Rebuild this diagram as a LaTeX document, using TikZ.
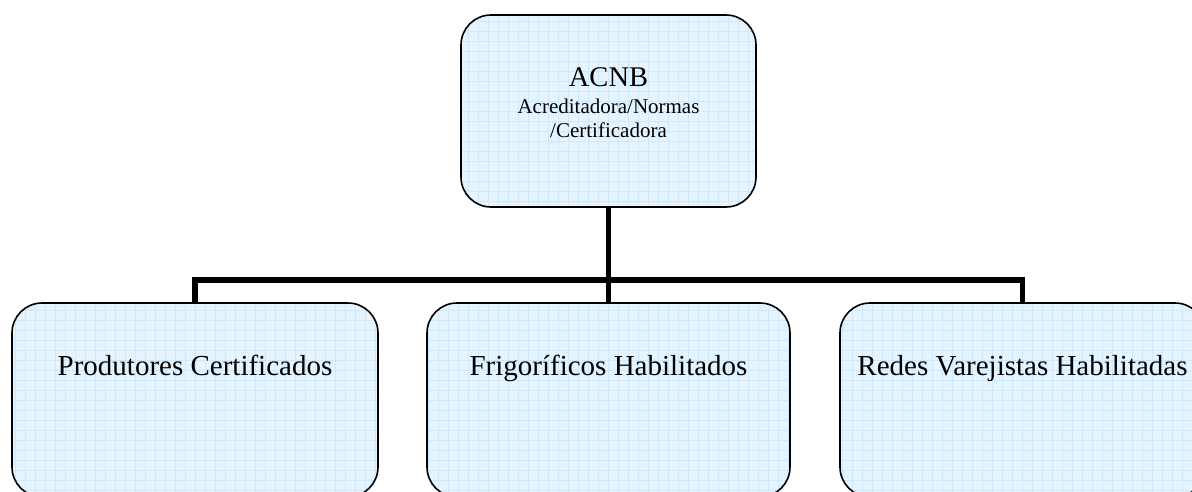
\documentclass[tikz,border=0pt]{standalone}
\usepackage{fontspec}
\setmainfont{Liberation Serif}
\definecolor{boxfill}{RGB}{229,244,255}
\definecolor{gridblue}{RGB}{206,233,252}
\tikzset{
  orgbox/.style={rectangle, rounded corners=30pt, draw=black, line width=1.6pt,
    fill=boxfill, inner sep=0pt,
    path picture={\draw[gridblue, line width=0.6pt]
      (path picture bounding box.south west) grid[step=10pt]
      (path picture bounding box.north east);}},
  conn/.style={draw=black, line width=5.5pt},
  bigtext/.style={font=\fontsize{29}{34}\selectfont, inner sep=0pt, anchor=base},
  titletext/.style={font=\fontsize{28.5}{34}\selectfont, inner sep=0pt, anchor=base},
  subtext/.style={font=\fontsize{21}{25}\selectfont, inner sep=0pt, anchor=base},
}
\begin{document}
\begin{tikzpicture}[x=1pt,y=-1pt]
\useasboundingbox (0,0) rectangle (1192,491);
\clip (0,0) rectangle (1192,491);
\fill[white] (0,0) rectangle (1192,491);
% boxes
\node[orgbox, minimum width=295pt, minimum height=192pt] (top) at (608.5,111) {};
\node[orgbox, minimum width=366pt, minimum height=194pt] (b1) at (195,400) {};
\node[orgbox, minimum width=363pt, minimum height=194pt] (b2) at (608.5,400) {};
\node[orgbox, minimum width=365pt, minimum height=194pt] (b3) at (1022.5,400) {};
% connectors
\coordinate (bus) at (608.5,280);
\draw[conn] (top.south) -- (bus);
\draw[conn] (b1.north) |- (bus) -| (b3.north);
\draw[conn] (bus) -- (b2.north);
% texts
\node[titletext] (ttl) at (608.5,86) {ACNB};
\node[subtext] (st1) at (608.5,113) {Acreditadora/Normas};
\node[subtext] (st2) at (608.5,137) {/Certificadora};
\node[bigtext] (t1) at (195,375) {Produtores Certificados};
\node[bigtext] (t2) at (608.5,375) {Frigoríficos Habilitados};
\node[bigtext] (t3) at (1022.5,375) {Redes Varejistas Habilitadas};
\end{tikzpicture}
\end{document}
